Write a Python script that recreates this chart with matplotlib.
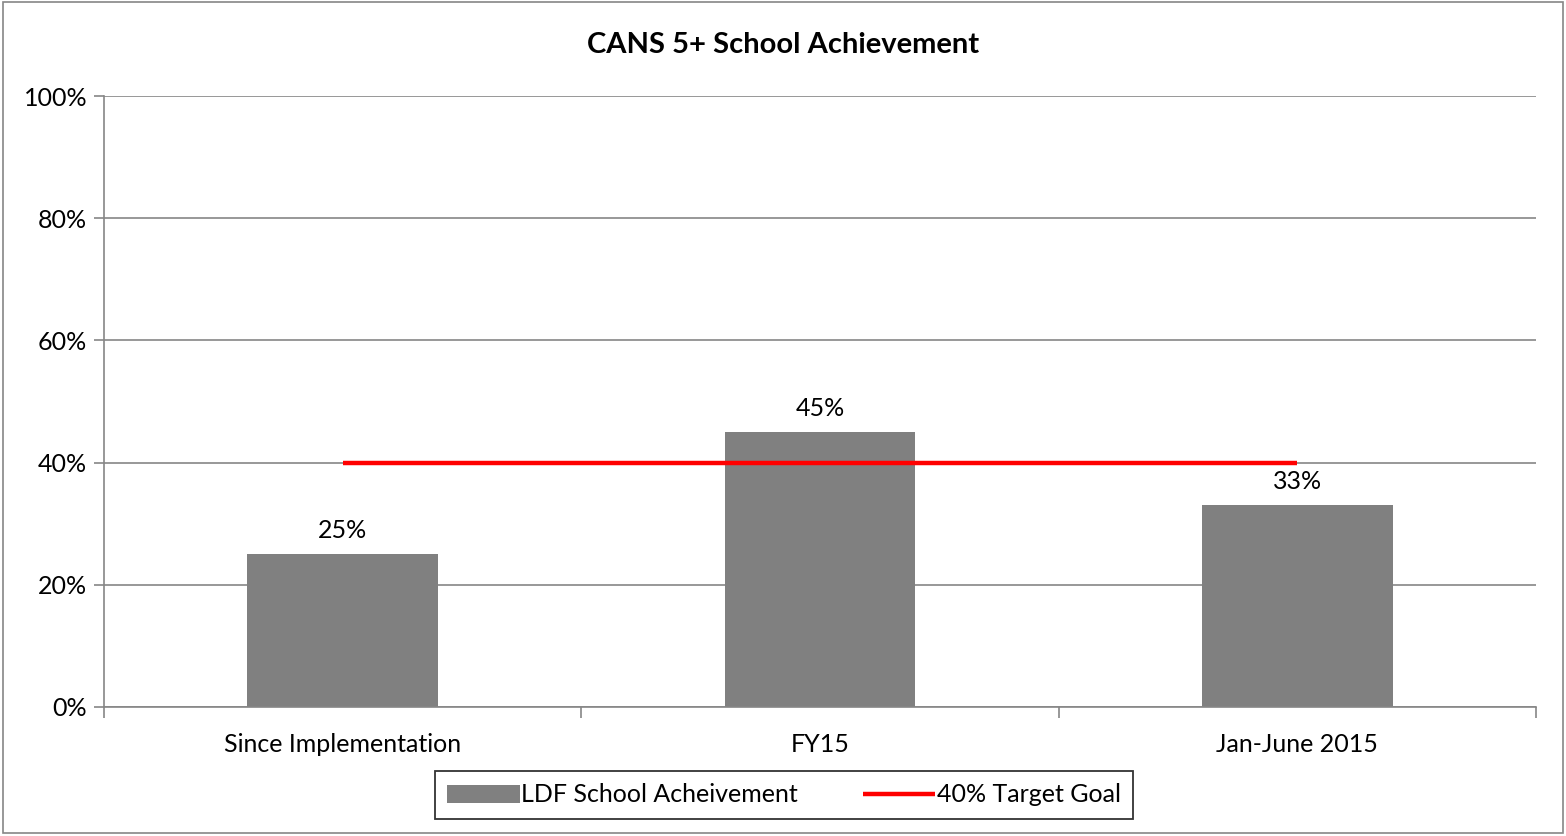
import matplotlib
matplotlib.use("Agg")
import matplotlib.pyplot as plt
from matplotlib.patches import Rectangle
from matplotlib.ticker import FixedLocator, PercentFormatter
import numpy as np

categories = ["Since Implementation", "FY15", "Jan-June 2015"]
achievement = [25, 45, 33]
target = [40, 40, 40]
yticks = [0, 20, 40, 60, 80, 100]

plt.rcParams['font.family'] = ['Lato', 'DejaVu Sans']

fig = plt.figure(figsize=(15.66, 8.36), dpi=100)
ax = fig.add_axes([104/1566, 1-707/836, (1536-104)/1566, (707-96)/836])

x = np.arange(len(categories))
bars = ax.bar(x, achievement, width=0.4, color="#808080", label="LDF School Acheivement", zorder=2)
line, = ax.plot(x, target, color="#FF0000", lw=3.2, label="40% Target Goal", zorder=3,
                solid_capstyle='butt')

for xi, v in zip(x, achievement):
    ax.annotate(f"{v}%", (xi, v), xytext=(0, 9), textcoords="offset points",
                ha="center", va="bottom", fontsize=18)

ax.set_xlim(-0.5, len(categories) - 0.5)
ax.set_ylim(0, 100)
ax.set_yticks(yticks)
ax.yaxis.set_major_formatter(PercentFormatter(decimals=0))
ax.set_xticks(x)
ax.set_xticklabels(categories)
ax.xaxis.set_minor_locator(FixedLocator(np.arange(-0.5, len(categories), 1.0)))
ax.tick_params(axis='x', which='major', length=0, pad=19, labelsize=18)
ax.tick_params(axis='x', which='minor', length=8, width=1.2, color="#868686", direction='out')
ax.tick_params(axis='y', length=7, width=1.2, color="#868686", labelsize=18, pad=5)

ax.grid(axis='y', color="#868686", lw=1.2, zorder=0)
ax.set_axisbelow(True)
for s in ['top', 'right']:
    ax.spines[s].set_visible(False)
for s in ['left', 'bottom']:
    ax.spines[s].set_color("#868686")
    ax.spines[s].set_linewidth(1.2)

fig.text(0.5, 1-45/836, "CANS 5+ School Achievement", ha="center", va="center",
         fontsize=21, fontweight="bold")

leg = fig.legend([bars, line], ["LDF School Acheivement", "40% Target Goal"],
                 loc="center", bbox_to_anchor=(784/1566, 1-795/836), ncol=2, fontsize=18,
                 frameon=True, fancybox=False, edgecolor="black", handlelength=2.9,
                 handletextpad=0.05, columnspacing=2.6, borderpad=0.5, borderaxespad=0)
leg.get_frame().set_linewidth(1.3)

fig.patches.append(Rectangle((3/1566, 3/836), 1-6/1566, 1-5/836, transform=fig.transFigure,
                             fill=False, edgecolor="#868686", lw=1.2))

fig.savefig("out.png", dpi=100)
